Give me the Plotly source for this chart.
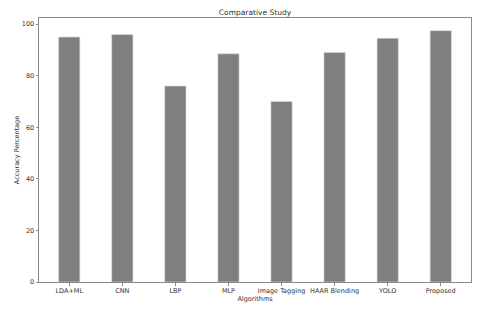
import plotly.graph_objects as go

algorithms = ["LDA+ML", "CNN", "LBP", "MLP", "Image Tagging", "HAAR Blending", "YOLO", "Proposed"]
accuracy = [95, 96, 76, 88.5, 70, 89, 94.5, 97.5]
y_ticks = [0, 20, 40, 60, 80, 100]

fig = go.Figure(go.Bar(
    x=list(range(len(algorithms))), y=accuracy, width=0.4,
    marker=dict(color="#7f7f7f", line=dict(color="#d8d8d8", width=0.6)),
))

txt = "#333333"
axis_font = dict(family="DejaVu Sans", size=6.5, color=txt)
# page body has an 8px default margin, so the figure is sized to fit the 480x315 window
fig.update_layout(
    width=472, height=307,
    margin=dict(l=29, r=8, t=10, b=33),
    paper_bgcolor="white", plot_bgcolor="white",
    showlegend=False,
    font=dict(family="DejaVu Sans", size=6.5, color=txt),
    title=dict(text="Comparative Study", xref="paper", x=0.5, xanchor="center",
               yref="container", y=0.987, yanchor="middle",
               font=dict(family="DejaVu Sans", size=7.5, color=txt)),
)
fig.update_xaxes(
    range=[-0.57, 7.57], tickmode="array", tickvals=list(range(len(algorithms))), ticktext=algorithms,
    showgrid=False, zeroline=False, showline=True, linecolor="#8a8a8a", linewidth=1, mirror=True,
    ticks="outside", ticklen=2.5, tickcolor="#8a8a8a", tickfont=axis_font,
    title=dict(text="Algorithms", font=dict(family="DejaVu Sans", size=6.5, color=txt), standoff=0),
)
fig.update_yaxes(
    range=[0, 102.4], tickmode="array", tickvals=y_ticks,
    showgrid=False, zeroline=False, showline=True, linecolor="#8a8a8a", linewidth=1, mirror=True,
    ticks="outside", ticklen=2.5, tickcolor="#8a8a8a", tickfont=axis_font,
    title=dict(text="Accuracy Percentage", font=dict(family="DejaVu Sans", size=6.5, color=txt), standoff=1),
)
fig.write_html("out.html")
